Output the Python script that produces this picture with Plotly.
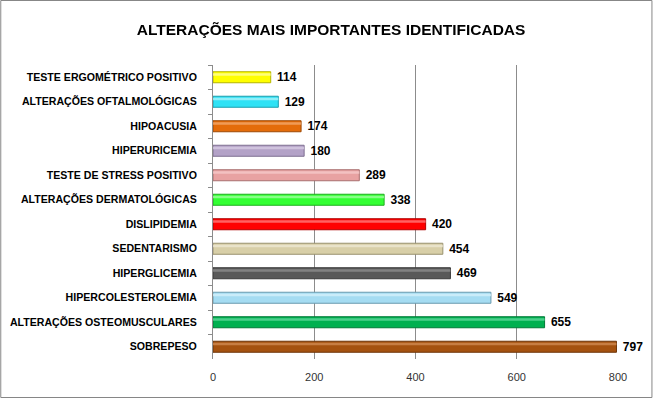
import plotly.graph_objects as go

categories = [
    "TESTE ERGOMÉTRICO POSITIVO",
    "ALTERAÇÕES OFTALMOLÓGICAS",
    "HIPOACUSIA",
    "HIPERURICEMIA",
    "TESTE DE STRESS POSITIVO",
    "ALTERAÇÕES DERMATOLÓGICAS",
    "DISLIPIDEMIA",
    "SEDENTARISMO",
    "HIPERGLICEMIA",
    "HIPERCOLESTEROLEMIA",
    "ALTERAÇÕES OSTEOMUSCULARES",
    "SOBREPESO",
]
values = [114, 129, 174, 180, 289, 338, 420, 454, 469, 549, 655, 797]
colors = ["#FFFF00", "#2FE2F5", "#E46C0A", "#B3A2C7", "#E8A2A2", "#33FF33",
          "#FF0000", "#D8CFA8", "#595959", "#A5DCF2", "#00B050", "#A5520F"]
edge_colors = ["#B5B500", "#1A9EAD", "#9E4A06", "#7E6F90", "#A86F6F", "#1FAE1F",
               "#B00000", "#99916E", "#3A3A3A", "#6A9BAE", "#007A37", "#6E360A"]
highlight = ["#FFFF99", "#A8F3FB", "#F3A86A", "#D6CBE3", "#F5CACA", "#9DFF9D",
             "#FF7A7A", "#EEE8D2", "#8C8C8C", "#D4F0FB", "#5ED89A", "#D08A50"]
x_ticks = [0, 200, 400, 600, 800]
title = "ALTERAÇÕES MAIS IMPORTANTES IDENTIFICADAS"

font = "Liberation Sans, Arial, sans-serif"

fig = go.Figure()
fig.add_trace(go.Bar(
    y=categories, x=values, orientation="h",
    marker=dict(color=colors, line=dict(color=edge_colors, width=1)),
    width=0.45,
    texttemplate="\u00a0%{x}", textposition="outside", constraintext="none",
    textfont=dict(family=font, size=12, color="#000000", weight="bold"),
    cliponaxis=False, hoverinfo="skip",
))
fig.add_trace(go.Bar(
    y=categories, x=values, orientation="h",
    marker=dict(color=highlight, line=dict(width=0)),
    width=0.1, offset=-0.16, opacity=0.8, hoverinfo="skip",
))

fig.update_layout(
    width=653, height=398,
    margin=dict(l=213, r=34.5, t=65, b=39),
    paper_bgcolor="white", plot_bgcolor="white",
    barmode="overlay", showlegend=False,
    title=dict(text=title, x=0.507, xanchor="center",
               y=0.925, yanchor="middle",
               font=dict(family=font, size=15.5, color="#000000", weight="bold")),
    xaxis=dict(range=[0, 800], tickvals=x_ticks, showgrid=True,
               gridcolor="#8C8C8C", gridwidth=1, zeroline=False,
               showline=False, ticks="", ticklabelstandoff=10,
               automargin=False,
               tickfont=dict(family=font, size=11, color="#333333")),
    yaxis=dict(categoryorder="array", categoryarray=categories,
               autorange="reversed", showline=True, linecolor="#8C8C8C",
               linewidth=1, ticks="outside", tickson="boundaries",
               ticklen=4, tickcolor="#8C8C8C", ticklabelstandoff=13,
               automargin=False,
               tickfont=dict(family=font, size=10.6, color="#000000", weight="bold")),
    shapes=[dict(type="rect", xref="paper", yref="paper",
                 x0=-0.524, x1=1.0838, y0=-0.131, y1=1.2194,
                 line=dict(color="#868686", width=1), layer="below")],
)

fig.write_html("out.html", config={"displayModeBar": False},
               post_script="document.body.style.margin='0';")
